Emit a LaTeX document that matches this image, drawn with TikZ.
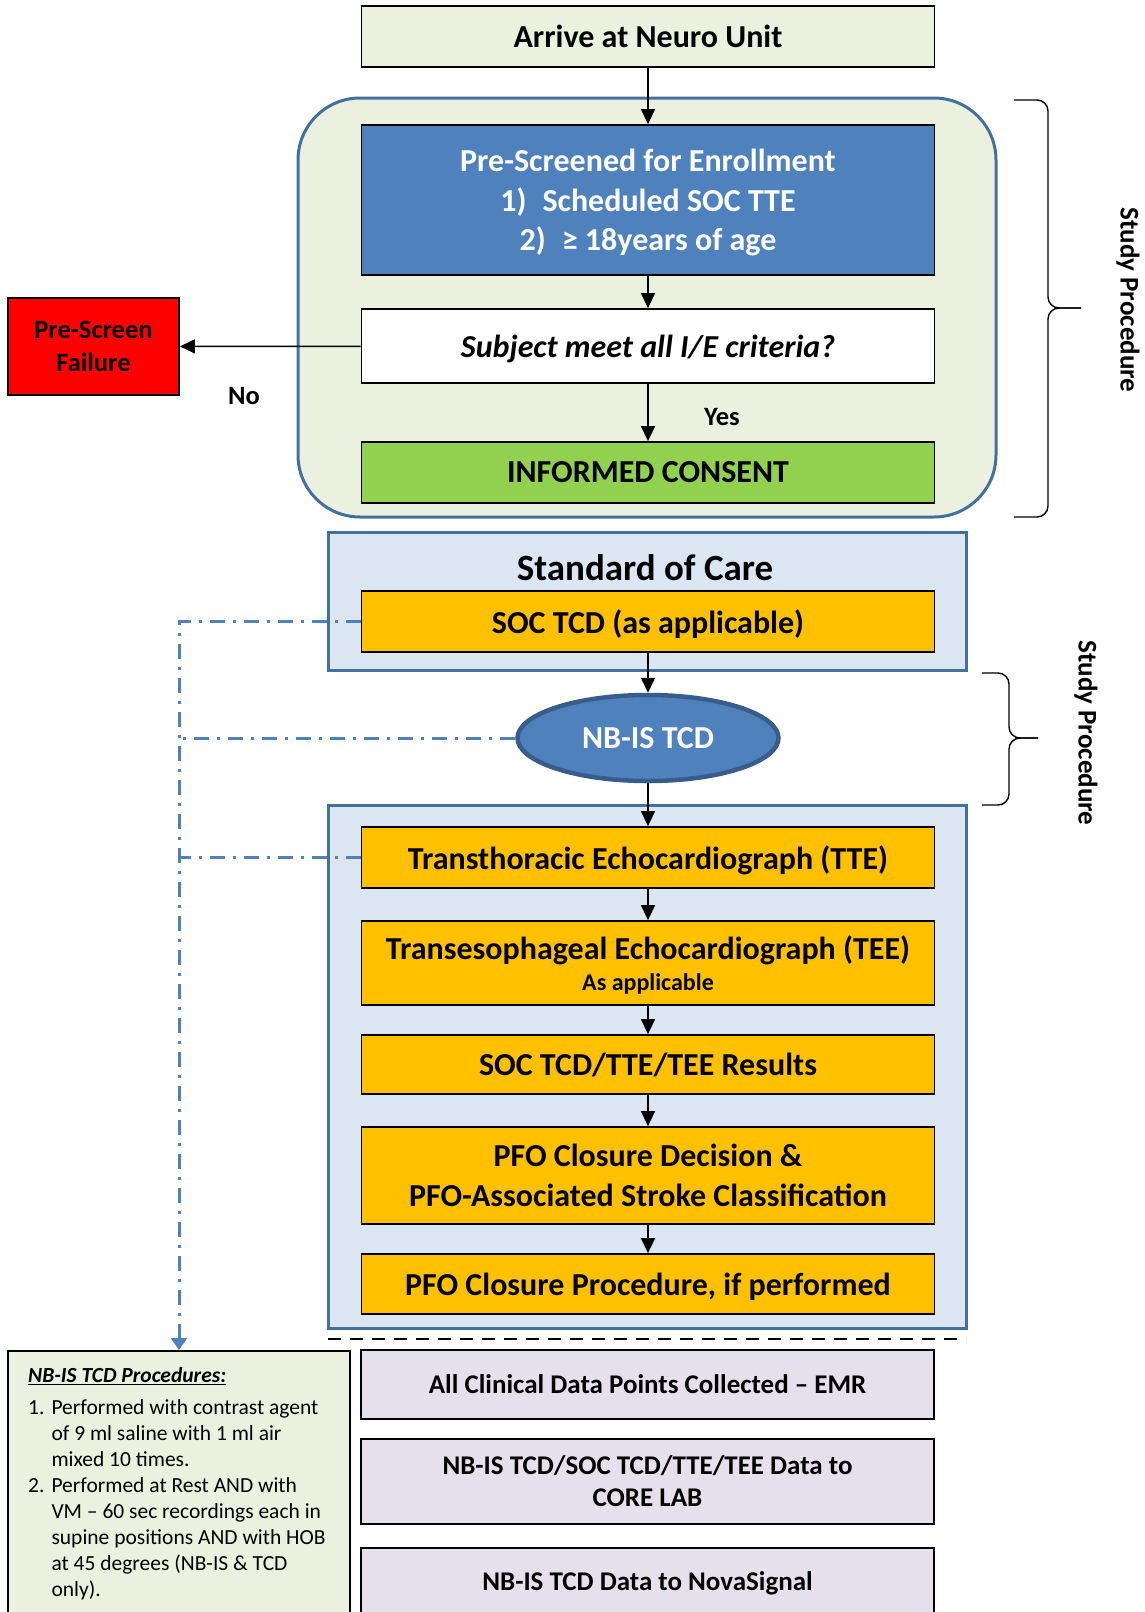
\documentclass[tikz,border=0pt]{standalone}
\usepackage{fontspec}
\setmainfont{Carlito}
\usetikzlibrary{arrows.meta, positioning, calc, shapes.geometric}

\definecolor{paleolive}{HTML}{EBF1DE}
\definecolor{frameblue}{HTML}{41719C}
\definecolor{midblue}{HTML}{4F81BD}
\definecolor{deepblue}{HTML}{385D8A}
\definecolor{paleblue}{HTML}{DCE6F2}
\definecolor{amber}{HTML}{FFC000}
\definecolor{leafgreen}{HTML}{92D050}
\definecolor{lilac}{HTML}{E6E0EC}

\begin{document}
\begin{tikzpicture}[
    x=1pt, y=-1pt,
    every node/.style={font=\bfseries\fontsize{32}{39.5}\selectfont},
    % Standard arrow
    arrow/.style={-{Triangle[length=15pt, width=14pt]}, line width=1.5pt},
    % Boxes of the flow
    box/.style={draw, line width=1.8pt, minimum width=573pt, align=center, inner sep=0pt, text depth=0pt},
    % Big framed areas
    zone/.style={draw=frameblue, line width=3pt, minimum width=#1},
    % Links to the NB-IS procedures
    dashdot/.style={draw=midblue, line width=3pt,
                    dash pattern=on 15pt off 8pt on 3pt off 8pt},
    % Curly bracket drawn by hand
    studybrace/.style={line width=1.4pt, rounded corners=11pt},
    small/.style={font=\bfseries\fontsize{26.5}{32}\selectfont},
    sidelabel/.style={rotate=-90, font=\bfseries\fontsize{27}{32}\selectfont}
]
\useasboundingbox (0,0) rectangle (1144,1612);

% === FRAMED AREAS ===
\node[zone=698pt, fill=paleolive, rounded corners=62pt, minimum height=419pt] (screenzone) at (647,307.5) {};
\node[zone=638pt, fill=paleblue, minimum height=138pt] (soczone) at (647,601) {};
\node[zone=638pt, fill=paleblue, minimum height=523pt] (echozone) at (647,1066.5) {};

% === SCREENING ===
\node[box, fill=paleolive, minimum height=61pt] (arrive) at (648,36.5) {Arrive at Neuro Unit};
\node[box, fill=midblue, text=white, minimum height=150pt] (prescreen) at (648,200)
    {Pre-Screened for Enrollment\\1)\enspace Scheduled SOC TTE\\2)\enspace ≥ 18years of age};
\node[box, fill=white, minimum height=74pt, font=\bfseries\itshape\fontsize{32}{39.5}\selectfont] (criteria) at (648,346)
    {Subject meet all I/E criteria?};
\node[box, fill=red, minimum width=171pt, minimum height=97pt, font=\bfseries\fontsize{26.5}{33}\selectfont] (failure) at (93.5,346.5)
    {Pre-Screen\\Failure};
\node[box, fill=leafgreen, minimum height=61pt] (consent) at (648,472.5) {INFORMED CONSENT};
\node[small] (nolabel) at (244,396) {No};
\node[small] (yeslabel) at (722,417) {Yes};

% === STANDARD OF CARE ===
\node[font=\bfseries\fontsize{37}{44}\selectfont] (soctitle) at (645,568) {Standard of Care};
\node[box, fill=amber, minimum height=61pt] (soctcd) at (648,621.5) {SOC TCD (as applicable)};
\node[ellipse, draw=deepblue, line width=4.5pt, fill=midblue, text=white,
      minimum width=261pt, minimum height=86pt] (nbis) at (648,738) {NB-IS TCD};

% === ECHO ===
\node[box, fill=amber, minimum height=61pt] (tte) at (648,857.5) {Transthoracic Echocardiograph (TTE)};
\node[box, fill=amber, minimum height=84pt] (tee) at (648,963)
    {Transesophageal Echocardiograph (TEE)\\[-8pt]{\fontsize{24}{28}\selectfont As applicable}};
\node[box, fill=amber, minimum height=59pt] (results) at (648,1064.5) {SOC TCD/TTE/TEE Results};
\node[box, fill=amber, minimum height=97pt] (decision) at (648,1175.5)
    {PFO Closure Decision \&\\PFO-Associated Stroke Classification};
\node[box, fill=amber, minimum height=60pt] (closure) at (648,1284) {PFO Closure Procedure, if performed};

% === DATA ===
\coordinate (sepL) at (328,1339);
\coordinate (sepR) at (966,1339);
\draw[line width=2.8pt, dash pattern=on 13pt off 9pt] (sepL) -- (sepR);
\node[box, fill=lilac, minimum height=69pt, font=\bfseries\fontsize{27}{32}\selectfont] (emr) at (647.5,1384.5)
    {All Clinical Data Points Collected -- EMR};
\node[box, fill=lilac, minimum height=85pt, font=\bfseries\fontsize{27}{32}\selectfont] (corelab) at (647.5,1481.5)
    {NB-IS TCD/SOC TCD/TTE/TEE Data to\\CORE LAB};
\node[box, fill=lilac, minimum height=66pt, font=\bfseries\fontsize{27}{32}\selectfont] (nova) at (647.5,1581)
    {NB-IS TCD Data to NovaSignal};

% === NB-IS PROCEDURES ===
\node[box, fill=paleolive, minimum width=342pt, minimum height=270pt, anchor=north] (procs) at (179,1350) {};
\node[anchor=north west, inner sep=0pt, align=left, font=\fontsize{21.5}{26}\selectfont] (procstext) at (28,1367)
    {\textbf{\textit{\underline{NB-IS TCD Procedures:}}}\\[11pt]
     \begin{tabular}{@{}l@{\hspace{7pt}}l@{}}
     1. & Performed with contrast agent\\
        & of 9 ml saline with 1 ml air\\
        & mixed 10 times.\\
     2. & Performed at Rest AND with\\
        & VM -- 60 sec recordings each in\\
        & supine positions AND with HOB\\
        & at 45 degrees (NB-IS \& TCD\\
        & only).
     \end{tabular}};

% === STUDY PROCEDURE BRACES ===
\coordinate (braceAtop) at (1014,100);
\coordinate (braceAbot) at (1014,517);
\coordinate (braceAtip) at (1081,308);
\draw[studybrace] (braceAtop) -- ++(34,0) |- (braceAtip);
\draw[studybrace] (braceAbot) -- ++(34,0) |- (braceAtip);
\node[sidelabel] (studyA) at (1128,300) {Study Procedure};
\coordinate (braceBtop) at (982,673);
\coordinate (braceBbot) at (982,805);
\coordinate (braceBtip) at (1038,738);
\draw[studybrace] (braceBtop) -- ++(27,0) |- (braceBtip);
\draw[studybrace] (braceBbot) -- ++(27,0) |- (braceBtip);
\node[sidelabel] (studyB) at (1086,733) {Study Procedure};

% === ARROWS ===
\draw[arrow] (arrive) -- (prescreen);
\draw[arrow] (prescreen) -- (criteria);
\draw[arrow] (criteria) -- (consent);
\draw[arrow] (criteria) -- (failure);
\draw[arrow] (soctcd) -- (nbis);
\draw[arrow] (nbis) -- (tte);
\draw[arrow] (tte) -- (tee);
\draw[arrow] (tee) -- (results);
\draw[arrow] (results) -- (decision);
\draw[arrow] (decision) -- (closure);

% === LINKS TO PROCEDURES ===
\draw[dashdot, -{Triangle[length=12pt, width=16pt]}, midblue] (soctcd.west) -| (procs.north);
\draw[dashdot] (nbis.west) -- (nbis.west -| procs.north);
\draw[dashdot] (tte.west) -- (tte.west -| procs.north);

\end{tikzpicture}
\end{document}
